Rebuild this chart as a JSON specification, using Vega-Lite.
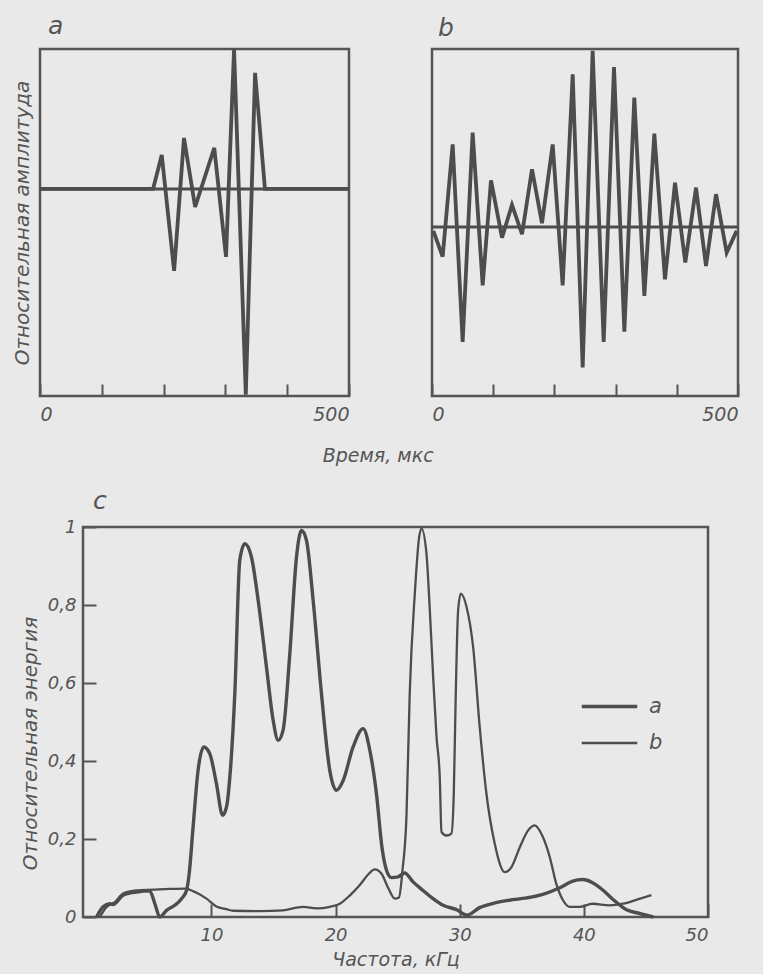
{
  "$schema": "https://vega.github.io/schema/vega-lite/v6.json",
  "background": "#e9e9e9",
  "padding": {"left": 10, "top": 13, "right": 40, "bottom": 40},
  "bounds": "flush",
  "spacing": 478,
  "config": {
    "font": "DejaVu Sans",
    "view": {"stroke": "#555555", "strokeWidth": 2.5},
    "axis": {
      "labelFont": "DejaVu Sans", "labelFontStyle": "italic", "labelColor": "#555555", "labelFontSize": 19,
      "titleFont": "DejaVu Sans", "titleFontStyle": "italic", "titleFontWeight": "normal", "titleColor": "#555555", "titleFontSize": 20,
      "grid": false, "domain": false, "tickColor": "#555555", "tickWidth": 2
    },
    "title": {"font": "DejaVu Sans", "fontStyle": "italic", "fontWeight": "normal", "color": "#555555", "fontSize": 25}
  },
  "datasets": {
    "sigA": [
      {"t": 0, "v": 0}, {"t": 183, "v": 0}, {"t": 197, "v": 0.243}, {"t": 217, "v": -0.586},
      {"t": 233, "v": 0.364}, {"t": 251, "v": -0.129}, {"t": 282, "v": 0.293}, {"t": 301, "v": -0.486},
      {"t": 314, "v": 1.0}, {"t": 333, "v": -1.47}, {"t": 348, "v": 0.829}, {"t": 364, "v": 0}, {"t": 500, "v": 0}
    ],
    "sigB": [
      {"t": 2.2, "v": -0.022}, {"t": 17.4, "v": -0.167}, {"t": 33.8, "v": 0.464}, {"t": 50.1, "v": -0.646},
      {"t": 66.4, "v": 0.53}, {"t": 82.8, "v": -0.328}, {"t": 96.4, "v": 0.262}, {"t": 114.4, "v": -0.06},
      {"t": 130.7, "v": 0.124}, {"t": 147.1, "v": -0.041}, {"t": 163.4, "v": 0.324}, {"t": 179.7, "v": 0.021},
      {"t": 197.2, "v": 0.464}, {"t": 213.5, "v": -0.328}, {"t": 229.9, "v": 0.858}, {"t": 246.2, "v": -0.79},
      {"t": 262.5, "v": 0.99}, {"t": 280.5, "v": -0.646}, {"t": 297.4, "v": 0.899}, {"t": 314.3, "v": -0.588},
      {"t": 330.6, "v": 0.727}, {"t": 347.0, "v": -0.388}, {"t": 363.3, "v": 0.524}, {"t": 380.7, "v": -0.294},
      {"t": 397.1, "v": 0.249}, {"t": 413.9, "v": -0.2}, {"t": 431.4, "v": 0.221}, {"t": 447.7, "v": -0.219},
      {"t": 464.1, "v": 0.184}, {"t": 481.5, "v": -0.144}, {"t": 497.8, "v": -0.022}
    ],
    "spec": [
      {"s": "a", "f": 0.74, "E": 0}, {"s": "a", "f": 1.27, "E": 0.026}, {"s": "a", "f": 1.81, "E": 0.034},
      {"s": "a", "f": 2.08, "E": 0.032}, {"s": "a", "f": 2.88, "E": 0.056}, {"s": "a", "f": 3.96, "E": 0.064},
      {"s": "a", "f": 5.03, "E": 0.067}, {"s": "a", "f": 5.44, "E": 0.034}, {"s": "a", "f": 5.84, "E": 0.0},
      {"s": "a", "f": 6.38, "E": 0.017}, {"s": "a", "f": 7.05, "E": 0.03}, {"s": "a", "f": 7.59, "E": 0.047},
      {"s": "a", "f": 7.99, "E": 0.068}, {"s": "a", "f": 8.2, "E": 0.11}, {"s": "a", "f": 8.52, "E": 0.231},
      {"s": "a", "f": 8.92, "E": 0.376}, {"s": "a", "f": 9.38, "E": 0.436}, {"s": "a", "f": 9.86, "E": 0.419},
      {"s": "a", "f": 10.4, "E": 0.342}, {"s": "a", "f": 10.89, "E": 0.261}, {"s": "a", "f": 11.21, "E": 0.282},
      {"s": "a", "f": 11.48, "E": 0.359}, {"s": "a", "f": 11.88, "E": 0.573}, {"s": "a", "f": 12.28, "E": 0.915},
      {"s": "a", "f": 12.69, "E": 0.957}, {"s": "a", "f": 13.22, "E": 0.923}, {"s": "a", "f": 13.76, "E": 0.812},
      {"s": "a", "f": 14.43, "E": 0.641}, {"s": "a", "f": 14.97, "E": 0.504}, {"s": "a", "f": 15.37, "E": 0.453},
      {"s": "a", "f": 15.77, "E": 0.479}, {"s": "a", "f": 16.31, "E": 0.675}, {"s": "a", "f": 16.85, "E": 0.923},
      {"s": "a", "f": 17.25, "E": 0.991}, {"s": "a", "f": 17.65, "E": 0.966}, {"s": "a", "f": 18.19, "E": 0.812},
      {"s": "a", "f": 18.86, "E": 0.573}, {"s": "a", "f": 19.53, "E": 0.376}, {"s": "a", "f": 20.07, "E": 0.325},
      {"s": "a", "f": 20.61, "E": 0.35}, {"s": "a", "f": 21.41, "E": 0.436}, {"s": "a", "f": 22.22, "E": 0.483},
      {"s": "a", "f": 22.76, "E": 0.427}, {"s": "a", "f": 23.29, "E": 0.316}, {"s": "a", "f": 23.75, "E": 0.175},
      {"s": "a", "f": 24.1, "E": 0.12}, {"s": "a", "f": 24.5, "E": 0.101}, {"s": "a", "f": 25.04, "E": 0.103},
      {"s": "a", "f": 25.57, "E": 0.113}, {"s": "a", "f": 26.24, "E": 0.09}, {"s": "a", "f": 27.05, "E": 0.068},
      {"s": "a", "f": 27.85, "E": 0.047}, {"s": "a", "f": 28.66, "E": 0.03}, {"s": "a", "f": 29.74, "E": 0.019},
      {"s": "a", "f": 30.6, "E": 0.005}, {"s": "a", "f": 31.6, "E": 0.024}, {"s": "a", "f": 32.7, "E": 0.035},
      {"s": "a", "f": 34.0, "E": 0.043}, {"s": "a", "f": 35.4, "E": 0.049}, {"s": "a", "f": 36.7, "E": 0.058},
      {"s": "a", "f": 38.06, "E": 0.075}, {"s": "a", "f": 39.1, "E": 0.092}, {"s": "a", "f": 39.9, "E": 0.096},
      {"s": "a", "f": 40.7, "E": 0.088}, {"s": "a", "f": 41.5, "E": 0.07}, {"s": "a", "f": 42.35, "E": 0.045},
      {"s": "a", "f": 43.4, "E": 0.019}, {"s": "a", "f": 44.5, "E": 0.009}, {"s": "a", "f": 45.6, "E": 0.0},
      {"s": "b", "f": 1.0, "E": 0}, {"s": "b", "f": 1.55, "E": 0.026}, {"s": "b", "f": 2.22, "E": 0.038},
      {"s": "b", "f": 2.88, "E": 0.06}, {"s": "b", "f": 3.96, "E": 0.068}, {"s": "b", "f": 5.3, "E": 0.07},
      {"s": "b", "f": 6.65, "E": 0.072}, {"s": "b", "f": 7.85, "E": 0.073}, {"s": "b", "f": 8.8, "E": 0.062},
      {"s": "b", "f": 9.6, "E": 0.047}, {"s": "b", "f": 10.4, "E": 0.027}, {"s": "b", "f": 11.2, "E": 0.02},
      {"s": "b", "f": 11.75, "E": 0.016}, {"s": "b", "f": 13.9, "E": 0.015}, {"s": "b", "f": 15.77, "E": 0.017},
      {"s": "b", "f": 16.85, "E": 0.024}, {"s": "b", "f": 17.4, "E": 0.026}, {"s": "b", "f": 18.46, "E": 0.022},
      {"s": "b", "f": 19.53, "E": 0.026}, {"s": "b", "f": 20.34, "E": 0.034}, {"s": "b", "f": 21.14, "E": 0.055},
      {"s": "b", "f": 21.95, "E": 0.082}, {"s": "b", "f": 22.62, "E": 0.109}, {"s": "b", "f": 23.16, "E": 0.122},
      {"s": "b", "f": 23.7, "E": 0.111}, {"s": "b", "f": 24.23, "E": 0.075}, {"s": "b", "f": 24.77, "E": 0.047},
      {"s": "b", "f": 25.1, "E": 0.05}, {"s": "b", "f": 25.39, "E": 0.12}, {"s": "b", "f": 25.71, "E": 0.26},
      {"s": "b", "f": 25.97, "E": 0.573}, {"s": "b", "f": 26.38, "E": 0.829}, {"s": "b", "f": 26.73, "E": 0.974},
      {"s": "b", "f": 26.92, "E": 0.996}, {"s": "b", "f": 27.32, "E": 0.932}, {"s": "b", "f": 27.59, "E": 0.786},
      {"s": "b", "f": 27.86, "E": 0.615}, {"s": "b", "f": 28.13, "E": 0.462}, {"s": "b", "f": 28.39, "E": 0.359},
      {"s": "b", "f": 28.53, "E": 0.218}, {"s": "b", "f": 28.93, "E": 0.209}, {"s": "b", "f": 29.33, "E": 0.214},
      {"s": "b", "f": 29.52, "E": 0.316}, {"s": "b", "f": 29.68, "E": 0.573}, {"s": "b", "f": 29.87, "E": 0.786},
      {"s": "b", "f": 30.09, "E": 0.829}, {"s": "b", "f": 30.55, "E": 0.795}, {"s": "b", "f": 31.08, "E": 0.692},
      {"s": "b", "f": 31.61, "E": 0.487}, {"s": "b", "f": 32.15, "E": 0.316}, {"s": "b", "f": 32.82, "E": 0.188},
      {"s": "b", "f": 33.63, "E": 0.115}, {"s": "b", "f": 34.17, "E": 0.128}, {"s": "b", "f": 34.84, "E": 0.179},
      {"s": "b", "f": 35.51, "E": 0.222}, {"s": "b", "f": 36.04, "E": 0.235}, {"s": "b", "f": 36.7, "E": 0.205},
      {"s": "b", "f": 37.25, "E": 0.154}, {"s": "b", "f": 37.78, "E": 0.085}, {"s": "b", "f": 38.32, "E": 0.043},
      {"s": "b", "f": 38.86, "E": 0.026}, {"s": "b", "f": 39.66, "E": 0.026}, {"s": "b", "f": 40.7, "E": 0.034},
      {"s": "b", "f": 42.08, "E": 0.03}, {"s": "b", "f": 43.15, "E": 0.034}, {"s": "b", "f": 44.23, "E": 0.044},
      {"s": "b", "f": 45.44, "E": 0.056}
    ]
  },
  "vconcat": [
    {
      "hconcat": [
        {
          "width": 309, "height": 347,
          "title": {"text": "a", "anchor": "start", "frame": "group", "offset": 2, "dx": 8},
          "layer": [
            {
              "data": {"values": [{}]},
              "mark": {"type": "rule", "color": "#4d4d4d", "strokeWidth": 3},
              "encoding": {"y": {"datum": 0, "type": "quantitative",
                "axis": {"title": "Относительная амплитуда", "labels": false, "ticks": false, "titlePadding": 8}}}
            },
            {
              "data": {"name": "sigA"},
              "mark": {"type": "line", "color": "#4d4d4d", "strokeWidth": 3.8, "strokeJoin": "miter"},
              "encoding": {
                "x": {"field": "t", "type": "quantitative", "scale": {"domain": [0, 500], "nice": false},
                  "axis": {"title": null, "values": [0, 100, 200, 300, 400, 500], "tickSize": -12, "labelPadding": 21,
                    "labelExpr": "datum.value == 0 || datum.value == 500 ? datum.label : ''"}},
                "y": {"field": "v", "type": "quantitative", "scale": {"domain": [-1.48, 1.0], "nice": false, "zero": false},
                  "axis": {"title": "Относительная амплитуда", "labels": false, "ticks": false, "titlePadding": 8}}
              }
            }
          ]
        },
        {
          "width": 306, "height": 347,
          "title": {"text": "b", "anchor": "start", "frame": "group", "offset": 2, "dx": 6},
          "layer": [
            {
              "data": {"values": [{}]},
              "mark": {"type": "rule", "color": "#4d4d4d", "strokeWidth": 3},
              "encoding": {"y": {"datum": 0, "type": "quantitative", "axis": null}}
            },
            {
              "data": {"name": "sigB"},
              "mark": {"type": "line", "color": "#4d4d4d", "strokeWidth": 3.8, "strokeJoin": "miter"},
              "encoding": {
                "x": {"field": "t", "type": "quantitative", "scale": {"domain": [0, 500], "nice": false},
                  "axis": {"title": null, "values": [0, 100, 200, 300, 400, 500], "tickSize": -12, "labelPadding": 21,
                    "labelExpr": "datum.value == 0 || datum.value == 500 ? datum.label : ''"}},
                "y": {"field": "v", "type": "quantitative", "scale": {"domain": [-0.95, 1.0], "nice": false, "zero": false},
                  "axis": null}
              }
            }
          ]
        }
      ],
      "spacing": 83,
      "bounds": "flush",
      "title": {"text": "Время, мкс", "orient": "bottom", "anchor": "middle", "offset": 22, "fontSize": 19}
    },
    {
      "hconcat": [
        {
          "width": 43, "height": 390,
          "view": {"stroke": null},
          "data": {"values": []},
          "mark": {"type": "point", "opacity": 0}
        },
        {
          "width": 625, "height": 390,
          "title": {"text": "c", "anchor": "start", "frame": "group", "offset": 4, "dx": 10},
          "data": {"name": "spec"},
          "mark": {"type": "line", "color": "#4d4d4d", "interpolate": "monotone"},
          "encoding": {
            "x": {"field": "f", "type": "quantitative", "scale": {"domain": [-0.35, 50], "nice": false, "zero": false},
              "axis": {"title": "Частота, кГц", "values": [10, 20, 30, 40, 50], "tickSize": -13, "labelPadding": 22,
                "labelFontSize": 18, "labelDx": -6, "titlePadding": 6, "titleFontSize": 19}},
            "y": {"field": "E", "type": "quantitative", "scale": {"domain": [0, 1], "nice": false},
              "axis": {"title": "Относительная энергия", "values": [0, 0.2, 0.4, 0.6, 0.8, 1], "tickSize": -13, "labelPadding": 20,
                "labelFontSize": 18, "titlePadding": 7, "titleY": 216,
                "labelExpr": "datum.value == 0 ? '0' : datum.value == 1 ? '1' : replace(format(datum.value, '.1f'), '.', ',')"}},
            "strokeWidth": {"field": "s", "type": "nominal", "scale": {"domain": ["a", "b"], "range": [3.4, 2.3]},
              "legend": {"title": null, "orient": "none", "legendX": 549, "legendY": 637, "symbolType": "M-1.5,0H1.5",
                "symbolSize": 1369, "symbolStrokeColor": "#4d4d4d", "labelFontSize": 21, "labelFontStyle": "italic",
                "labelFont": "DejaVu Sans", "labelColor": "#555555", "labelOffset": 19, "rowPadding": 6, "padding": 0}}
          }
        }
      ],
      "spacing": 0,
      "bounds": "flush"
    }
  ]
}
